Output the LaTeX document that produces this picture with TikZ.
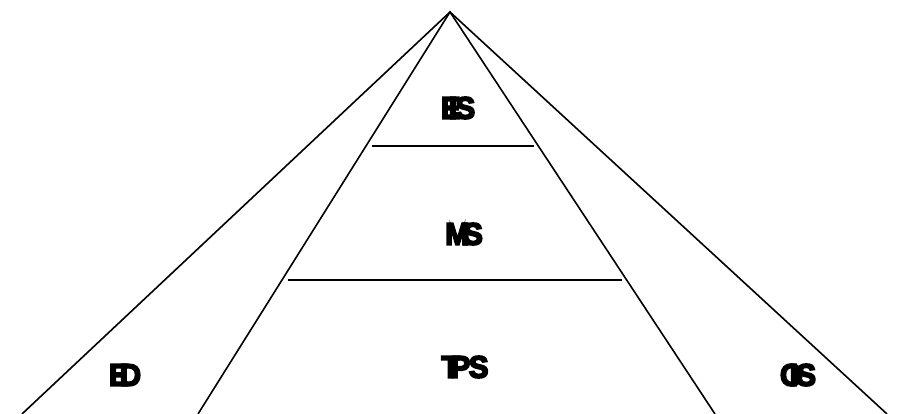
\documentclass[tikz,border=0pt]{standalone}
\usepackage{fontspec}
\setmainfont{Liberation Sans}
\begin{document}
\begin{tikzpicture}[x=1pt,y=-1pt,
  edge/.style={line width=1.6pt,black},
  lbl/.style={inner sep=0pt,anchor=center}]
\useasboundingbox (0,0) rectangle (899,414);
\coordinate (apex) at (450,12);
\coordinate (lo) at (22,414);
\coordinate (li) at (198,414);
\coordinate (ri) at (715,414);
\coordinate (ro) at (887,414);
\coordinate (h1l) at (372,146);
\coordinate (h1r) at (534,146);
\coordinate (h2l) at (288,280);
\coordinate (h2r) at (622,280);
\draw[edge] (lo) -- (apex) -- (ro);
\draw[edge] (li) -- (apex) -- (ri);
\draw[edge] (h1l) -- (h1r);
\draw[edge] (h2l) -- (h2r);
\newcommand\lbltext[1]{\scalebox{0.95}[1]{\special{pdf:code 2 Tr 1.8 w}\bfseries\fontsize{31}{31}\selectfont #1\special{pdf:code 0 Tr 1 w}}}
\node[lbl] (eis) at (458,108) {\lbltext{E\kern-0.4em I\kern-0.05em S}};
\node[lbl] (mis) at (464,234) {\lbltext{M\kern-0.3em I\kern-0.2em S}};
\node[lbl] (tps) at (465,367) {\lbltext{T\kern-0.3em P\kern-0.05em S}};
\node[lbl] (ed) at (125,375) {\lbltext{E\kern-0.3em D}};
\node[lbl] (ois) at (798,375) {\lbltext{O\kern-0.45em I\kern-0.05em S}};
\end{tikzpicture}
\end{document}
